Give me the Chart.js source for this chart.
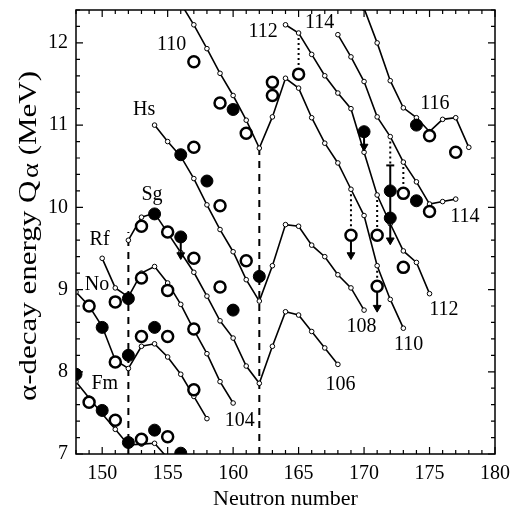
<!DOCTYPE html>
<html>
<head>
<meta charset="utf-8">
<script src="https://cdn.jsdelivr.net/npm/chart.js@4.4.0/dist/chart.umd.min.js"></script>
<style>
  body { margin: 0; background: #fff; }
</style>
</head>
<body>
<canvas id="qaChart" width="515" height="511"></canvas>
<script>
// tick labels
const xTicks = [150, 155, 160, 165, 170, 175, 180];
const yTicks = [7, 8, 9, 10, 11, 12];

// calculated Q-alpha chains (neutron number / MeV)
const nFm = [148, 149, 150, 151, 152, 153, 154, 155];
const qFm = [7.88, 7.68, 7.49, 7.30, 7.11, 7.12, 7.13, 6.95];
const nNo = [148, 149, 150, 151, 152, 153, 154, 155, 156, 157, 158];
const qNo = [8.97, 8.80, 8.55, 8.14, 8.04, 8.31, 8.34, 8.18, 7.97, 7.70, 7.43];
const nRf = [150, 151, 152, 153, 154, 155, 156, 157, 158, 159, 160];
const qRf = [9.38, 9.02, 8.91, 9.20, 9.28, 9.08, 8.82, 8.51, 8.22, 7.88, 7.62];
const nSg = [152, 153, 154, 155, 156, 157, 158, 159, 160, 161, 162, 163, 164, 165, 166, 167, 168];
const qSg = [9.60, 9.88, 9.93, 9.69, 9.45, 9.21, 8.92, 8.62, 8.41, 8.07, 7.86, 8.31, 8.73, 8.69, 8.49, 8.29, 8.09];
const nHs = [154, 155, 156, 157, 158, 159, 160, 161, 162, 163, 164, 165, 166, 167, 168, 169, 170];
const qHs = [11.00, 10.80, 10.62, 10.35, 10.03, 9.73, 9.46, 9.12, 8.86, 9.29, 9.79, 9.77, 9.54, 9.40, 9.18, 9.02, 8.75];
const n110 = [156, 157, 158, 159, 160, 161, 162, 163, 164, 165, 166, 167, 168, 169, 170, 171, 172, 173];
const q110 = [12.48, 12.22, 11.93, 11.63, 11.36, 11.06, 10.72, 11.10, 11.57, 11.45, 11.09, 10.78, 10.54, 10.22, 9.90, 9.29, 8.88, 8.53];
const n112 = [164, 165, 166, 167, 168, 169, 170, 171, 172, 173, 174, 175];
const q112 = [12.22, 12.12, 11.86, 11.60, 11.39, 11.20, 10.67, 10.15, 9.80, 9.47, 9.33, 8.95];
const n114 = [168, 169, 170, 171, 172, 173, 174, 175, 176, 177];
const q114 = [12.10, 11.83, 11.53, 11.10, 10.86, 10.55, 10.31, 10.04, 10.07, 10.10];
const n116 = [170, 171, 172, 173, 174, 175, 176, 177, 178];
const q116 = [12.42, 12.00, 11.54, 11.21, 11.09, 10.92, 11.07, 11.09, 10.73];

// experimental values: open and filled circles
const nOpen = [157, 159, 161, 163, 163, 157, 159, 153, 155, 157, 161, 159, 153, 155, 151, 149, 157, 153, 155, 151, 157, 149, 151, 153, 155, 165, 173, 175, 175, 177, 169, 171, 171, 173];
const qOpen = [11.77, 11.27, 10.90, 11.52, 11.36, 10.73, 10.02, 9.77, 9.70, 9.38, 9.35, 9.03, 9.14, 8.99, 8.85, 8.80, 8.52, 8.43, 8.43, 8.12, 7.78, 7.63, 7.41, 7.18, 7.21, 11.62, 10.17, 9.95, 10.87, 10.67, 9.66, 9.66, 9.04, 9.27];
const nFull = [160, 156, 158, 154, 156, 162, 160, 152, 150, 154, 152, 148, 150, 152, 154, 156, 170, 172, 172, 174, 174];
const qFull = [11.19, 10.64, 10.32, 9.92, 9.64, 9.16, 8.75, 8.89, 8.54, 8.54, 8.20, 7.97, 7.53, 7.14, 7.29, 7.01, 10.92, 10.20, 9.87, 10.08, 11.00];

// dotted links from a calculated point down to a measured one
const nLink = [165, 169, 171, 171, 172, 173];
const qLinkTop = [12.12, 10.22, 10.15, 9.29, 10.86, 10.55];
const qLinkEnd = [11.62, 9.66, 9.66, 9.04, 10.51, 10.17];

// upper limits (arrows)
const nArrow = [156, 169, 170, 171, 172];
const qArrowFrom = [9.64, 9.66, 10.92, 9.04, 10.51];
const qArrowTo = [9.42, 9.42, 10.74, 8.78, 9.60];

// shell gaps
const nGap = [152, 162];
const qGapTop = [9.70, 10.72];

// labels
const labelText = ['110', '112', '114', 'Hs', 'Sg', 'Rf', 'No', 'Fm', '116', '114', '112', '110', '108', '106', '104'];
const labelN = [155.3, 162.3, 166.6, 153.2, 153.8, 149.8, 149.6, 150.2, 175.4, 177.7, 176.1, 173.4, 169.8, 168.2, 160.5];
const labelQ = [11.98, 12.13, 12.25, 11.19, 10.15, 9.60, 9.06, 7.86, 11.26, 9.88, 8.75, 8.33, 8.55, 7.84, 7.40];

const serif = "'Liberation Serif', 'Times New Roman', serif";
const pts = (ns, qs) => ns.map((n, i) => ({ x: n, y: qs[i] }));

const datasets = [];

// experimental points on top
datasets.push({
    data: pts(nFull, qFull),
    pointRadius: 6, pointBackgroundColor: '#000', pointBorderColor: '#000', pointBorderWidth: 1,
    showLine: false, order: 0, clip: 0
});
datasets.push({
    data: pts(nOpen, qOpen),
    pointRadius: 5.5, pointBackgroundColor: '#fff', pointBorderColor: '#000', pointBorderWidth: 2.5,
    showLine: false, order: 0, clip: 0
});

// calculated chains
[[nFm, qFm], [nNo, qNo], [nRf, qRf], [nSg, qSg], [nHs, qHs],
 [n110, q110], [n112, q112], [n114, q114], [n116, q116]].forEach(([ns, qs]) => {
    datasets.push({
        data: pts(ns, qs),
        showLine: true, borderColor: '#000', borderWidth: 1.6,
        pointRadius: 2.3, pointBackgroundColor: '#fff', pointBorderColor: '#000', pointBorderWidth: 1,
        order: 2, clip: 0
    });
});

// dotted links
nLink.forEach((n, i) => {
    datasets.push({
        data: [{ x: n, y: qLinkTop[i] }, { x: n, y: qLinkEnd[i] }],
        showLine: true, borderColor: '#000', borderWidth: 2, borderDash: [2, 3],
        pointRadius: 0, order: 3
    });
});

// arrows: shaft + head
nArrow.forEach((n, i) => {
    datasets.push({
        data: [{ x: n, y: qArrowFrom[i] }, { x: n, y: qArrowTo[i] }],
        showLine: true, borderColor: '#000', borderWidth: 2,
        pointRadius: 0, order: 1
    });
    datasets.push({
        data: [{ x: n, y: qArrowTo[i] }],
        showLine: false, pointStyle: 'triangle', pointRotation: 180, pointRadius: 4.5,
        pointBackgroundColor: '#000', pointBorderColor: '#000', pointBorderWidth: 1, order: 1
    });
});
// error bar cap on the N=172 limit
datasets.push({
    data: [{ x: nArrow[4], y: qArrowFrom[4] }],
    showLine: false, pointStyle: 'line', pointRadius: 4, pointBorderColor: '#000', pointBorderWidth: 2, order: 1
});

// dashed shell-gap lines
nGap.forEach((n, i) => {
    datasets.push({
        data: [{ x: n, y: 7 }, { x: n, y: qGapTop[i] }],
        showLine: true, borderColor: '#000', borderWidth: 2, borderDash: [7, 6],
        pointRadius: 0, order: 5
    });
});

// frame, inward ticks, tick labels, labels and axis titles
const decorations = {
    id: 'decorations',
    afterDatasetsDraw(chart) {
        const { ctx, chartArea: a, scales: { x, y } } = chart;
        ctx.save();
        ctx.strokeStyle = '#000';
        ctx.lineWidth = 1.5;
        ctx.strokeRect(a.left, a.top, a.right - a.left, a.bottom - a.top);

        ctx.lineWidth = 1.2;
        ctx.beginPath();
        for (let n = 148; n <= 180; n++) {
            const px = x.getPixelForValue(n);
            const len = n % 5 === 0 ? 7 : 4;
            ctx.moveTo(px, a.bottom); ctx.lineTo(px, a.bottom - len);
            ctx.moveTo(px, a.top); ctx.lineTo(px, a.top + len);
        }
        for (let k = 35; k <= 62; k++) {
            const py = y.getPixelForValue(k / 5);
            const len = k % 5 === 0 ? 7 : 4;
            ctx.moveTo(a.left, py); ctx.lineTo(a.left + len, py);
            ctx.moveTo(a.right, py); ctx.lineTo(a.right - len, py);
        }
        ctx.stroke();

        ctx.fillStyle = '#000';
        ctx.font = '20px ' + serif;
        ctx.textBaseline = 'middle';
        ctx.textAlign = 'center';
        xTicks.forEach(v => ctx.fillText(String(v), x.getPixelForValue(v), a.bottom + 20));
        ctx.textAlign = 'right';
        yTicks.forEach(v => ctx.fillText(String(v), a.left - 8, y.getPixelForValue(v)));

        ctx.textAlign = 'center';
        labelText.forEach((t, i) => {
            ctx.fillText(t, x.getPixelForValue(labelN[i]), y.getPixelForValue(labelQ[i]));
        });

        // x title
        ctx.font = '22px ' + serif;
        ctx.fillText('Neutron number', (a.left + a.right) / 2, 499);

        // y title with subscript alpha (stretched along the axis like the original)
        ctx.translate(29, 236);
        ctx.rotate(-Math.PI / 2);
        ctx.scale(1.24, 1);
        const p1 = 'α-decay energy Q', p2 = 'α', p3 = ' (MeV)';
        ctx.font = '25px ' + serif;
        const w1 = ctx.measureText(p1).width, w3 = ctx.measureText(p3).width;
        ctx.font = '23px ' + serif;
        const w2 = ctx.measureText(p2).width + 2;
        const start = -(w1 + w2 + w3) / 2;
        ctx.textAlign = 'left';
        ctx.font = '25px ' + serif;
        ctx.fillText(p1, start, 0);
        ctx.font = '23px ' + serif;
        ctx.fillText(p2, start + w1 + 2, 3);
        ctx.font = '25px ' + serif;
        ctx.fillText(p3, start + w1 + w2, 0);
        ctx.restore();
    }
};

new Chart(document.getElementById('qaChart'), {
    type: 'scatter',
    data: { datasets },
    options: {
        responsive: false,
        animation: false,
        devicePixelRatio: 1,
        layout: { padding: { top: 10, right: 20, left: 0, bottom: 0 } },
        plugins: { legend: { display: false }, tooltip: { enabled: false } },
        scales: {
            x: {
                type: 'linear', min: 148, max: 180,
                grid: { display: false, drawTicks: false },
                border: { display: false },
                ticks: { display: false },
                afterFit: s => { s.height = 57; }
            },
            y: {
                type: 'linear', min: 7, max: 12.4,
                grid: { display: false, drawTicks: false },
                border: { display: false },
                ticks: { display: false },
                afterFit: s => { s.width = 76; }
            }
        }
    },
    plugins: [decorations]
});
</script>
</body>
</html>
